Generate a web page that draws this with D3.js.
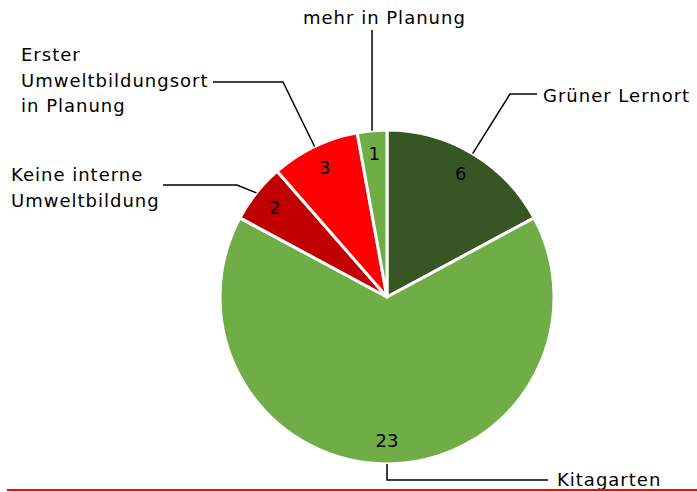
<!DOCTYPE html>
<html>
<head>
<meta charset="utf-8">
<script src="https://cdn.jsdelivr.net/npm/d3@7.9.0/dist/d3.min.js"></script>
<style>
  html, body { margin: 0; padding: 0; background: #fff; }
  svg { display: block; }
  text { font-family: Verdana, "DejaVu Sans", sans-serif; font-size: 18px; fill: #000; }
  text.cat { letter-spacing: 1px; }
</style>
</head>
<body>
<svg id="chart" width="697" height="492"></svg>
<script>
// data
const categories = ['Grüner Lernort', 'Kitagarten', 'Keine interne Umweltbildung', 'Erster Umweltbildungsort in Planung', 'mehr in Planung'];
const values = [6, 23, 2, 3, 1];
const colors = ['#375623', '#70AD47', '#C00000', '#FF0000', '#70AD47'];
const labelLines = [
  ['Grüner Lernort'],
  ['Kitagarten'],
  ['Keine interne', 'Umweltbildung'],
  ['Erster', 'Umweltbildungsort', 'in Planung'],
  ['mehr in Planung']
];

// leader layout: elbow point, line end, text anchor (x, first baseline)
const leaders = [
  { elbow: [510, 94], end: [537, 94], tx: 543, ty: 102 },
  { elbow: [387, 480], end: [548, 480], tx: 557, ty: 486 },
  { elbow: [237, 185], end: [163, 185], tx: 11, ty: 181 },
  { elbow: [283, 82], end: [213, 82], tx: 21, ty: 61 },
  { elbow: null, end: null, top: 30, tx: 303, ty: 24 }
];

const svg = d3.select('#chart');
const cx = 387, cy = 297, R = 167;

const data = categories.map((c, i) => ({ label: c, value: values[i], i }));
const pie = d3.pie().sort(null).value((d) => d.value);
const arcs = pie(data);
const arc = d3.arc().innerRadius(0).outerRadius(R);
const edgeArc = d3.arc().innerRadius(R).outerRadius(R);
const valArc = d3.arc().innerRadius(R * 0.86).outerRadius(R * 0.86);

const g = svg.append('g').attr('transform', `translate(${cx},${cy})`);

g.selectAll('path.slice')
  .data(arcs)
  .join('path')
  .attr('class', 'slice')
  .attr('d', arc)
  .attr('fill', (d) => colors[d.data.i])
  .attr('stroke', '#fff')
  .attr('stroke-width', 3)
  .attr('stroke-linejoin', 'round');

g.selectAll('text.val')
  .data(arcs)
  .join('text')
  .attr('class', 'val')
  .attr('x', (d) => valArc.centroid(d)[0])
  .attr('y', (d) => valArc.centroid(d)[1])
  .attr('dy', '0.35em')
  .attr('text-anchor', 'middle')
  .text((d) => d.value);

// leader lines
arcs.forEach((d) => {
  const L = leaders[d.data.i];
  const [sx, sy] = edgeArc.centroid(d);
  const p0 = [sx + cx, sy + cy];
  let pts;
  if (L.elbow) pts = [p0, L.elbow, L.end];
  else pts = [p0, [p0[0], L.top]];
  svg.append('path')
    .attr('d', d3.line()(pts))
    .attr('fill', 'none')
    .attr('stroke', '#000')
    .attr('stroke-width', 1.5);

  const t = svg.append('text').attr('class', 'cat').attr('x', L.tx).attr('y', L.ty);
  labelLines[d.data.i].forEach((line, k) => {
    t.append('tspan').attr('x', L.tx).attr('dy', k === 0 ? 0 : 25.7).text(line);
  });
});

// bottom rule
svg.append('line')
  .attr('x1', 7).attr('x2', 697)
  .attr('y1', 490).attr('y2', 490)
  .attr('stroke', '#FF0000')
  .attr('stroke-width', 2);
</script>
</body>
</html>
